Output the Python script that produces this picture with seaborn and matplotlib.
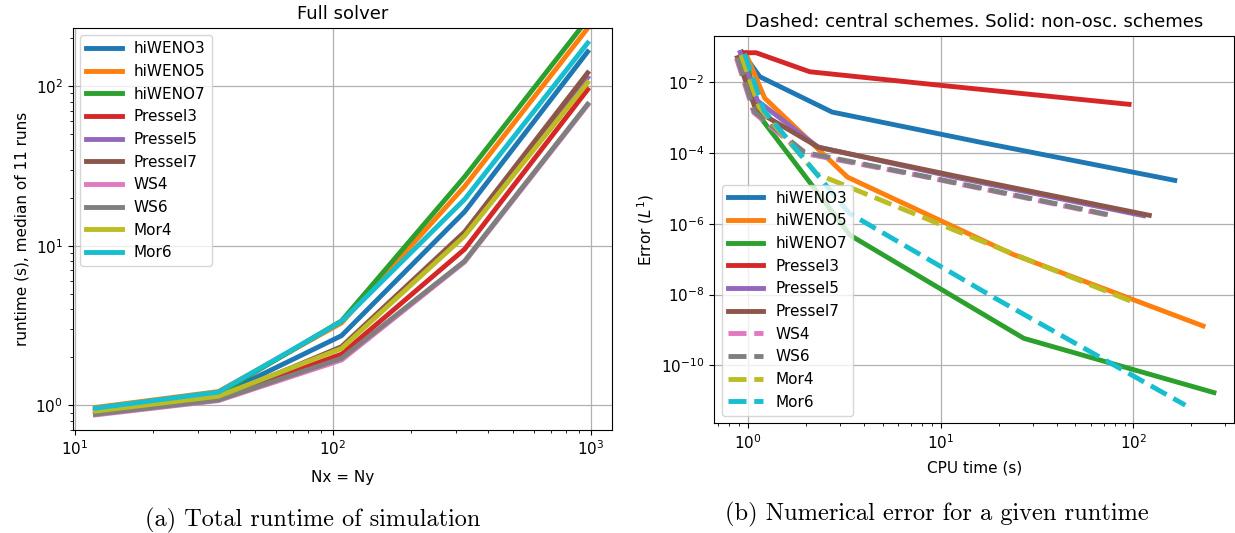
import numpy as np
import pandas as pd
import matplotlib
matplotlib.use("Agg")
import matplotlib.pyplot as plt
import seaborn as sns

# grid sizes (Nx = Ny)
nx = [12, 36, 108, 324, 972]

# median runtime (s) for each scheme, also used as CPU time in panel (b)
time_hiweno3 = [0.93, 1.15, 2.73, 16.3, 164]
time_hiweno5 = [0.97, 1.22, 3.28, 23.5, 230]
time_hiweno7 = [0.95, 1.18, 3.38, 27.0, 262]
time_pressel3 = [0.92, 1.10, 2.09, 9.5, 95]
time_pressel5 = [0.91, 1.12, 2.30, 11.8, 113]
time_pressel7 = [0.88, 1.10, 2.33, 12.2, 121]
time_ws4 = [0.87, 1.07, 1.92, 7.9, 76]
time_ws6 = [0.88, 1.08, 1.97, 8.0, 77]
time_mor4 = [0.92, 1.14, 2.27, 11.5, 105]
time_mor6 = [0.96, 1.21, 3.35, 19.5, 186]

# L1 error for each scheme
err_hiweno3 = [0.072, 0.0145, 1.45e-3, 2.0e-4, 1.7e-5]
err_hiweno5 = [0.068, 3.6e-3, 2.1e-5, 1.4e-7, 1.3e-9]
err_hiweno7 = [0.065, 9.0e-4, 4.8e-7, 5.8e-10, 1.7e-11]
err_pressel3 = [0.069, 0.069, 0.020, 0.0085, 0.0024]
err_pressel5 = [0.070, 3.0e-3, 1.5e-4, 2.1e-5, 1.7e-6]
err_pressel7 = [0.050, 1.6e-3, 1.45e-4, 2.2e-5, 1.75e-6]
err_ws4 = [0.048, 1.40e-3, 1.0e-4, 2.25e-5, 1.7e-6]
err_ws6 = [0.048, 1.45e-3, 1.05e-4, 2.3e-5, 1.75e-6]
err_mor4 = [0.060, 2.0e-3, 2.6e-5, 7.0e-7, 5.5e-9]
err_mor6 = [0.065, 1.6e-3, 2.0e-6, 7.5e-9, 7.5e-12]

schemes = ["hiWENO3", "hiWENO5", "hiWENO7", "Pressel3", "Pressel5",
           "Pressel7", "WS4", "WS6", "Mor4", "Mor6"]
central = ["WS4", "WS6", "Mor4", "Mor6"]
times = [time_hiweno3, time_hiweno5, time_hiweno7, time_pressel3, time_pressel5,
         time_pressel7, time_ws4, time_ws6, time_mor4, time_mor6]
errors = [err_hiweno3, err_hiweno5, err_hiweno7, err_pressel3, err_pressel5,
          err_pressel7, err_ws4, err_ws6, err_mor4, err_mor6]

rows = []
for name, t, e in zip(schemes, times, errors):
    for n, ti, ei in zip(nx, t, e):
        rows.append({"scheme": name, "nx": n, "time": ti, "error": ei})
df = pd.DataFrame(rows)

palette = sns.color_palette("tab10", len(schemes))

fig = plt.figure(figsize=(12.35, 5.33), dpi=100)
ax1 = fig.add_axes([0.0589, 0.1932, 0.4364, 0.7548])
ax2 = fig.add_axes([0.5784, 0.2058, 0.4210, 0.7272])

for ax in (ax1, ax2):
    ax.set_xscale("log")
    ax.set_yscale("log")

# --- (a) runtime vs grid size ---
for name, color in zip(schemes, palette):
    sub = df[df["scheme"] == name]
    sns.lineplot(data=sub, x="nx", y="time", ax=ax1, color=color, lw=3.5,
                 label=name, errorbar=None)
ax1.set_xlim(9.8, 1205)
ax1.set_ylim(0.70, 232)
ax1.grid(True, which="major", color="#b0b0b0", lw=0.9)
ax1.set_title("Full solver", fontsize=13)
ax1.set_xlabel("Nx = Ny", fontsize=11, labelpad=8)
ax1.set_ylabel("runtime (s), median of 11 runs", fontsize=11)
ax1.tick_params(labelsize=11)
ax1.legend(loc="upper left", fontsize=11, handlelength=2.3)

# --- (b) error vs CPU time ---
for name, color in zip(schemes, palette):
    sub = df[df["scheme"] == name]
    ls = "--" if name in central else "-"
    sns.lineplot(data=sub, x="time", y="error", ax=ax2, color=color, lw=3.5,
                 linestyle=ls, label=name, errorbar=None, sort=False)
ax2.set_xlim(0.668, 334)
ax2.set_ylim(2.3e-12, 0.209)
ax2.set_yticks([1e-10, 1e-8, 1e-6, 1e-4, 1e-2])
ax2.grid(True, which="major", color="#b0b0b0", lw=0.9)
ax2.set_title("Dashed: central schemes. Solid: non-osc. schemes", fontsize=13)
ax2.set_xlabel("CPU time (s)", fontsize=11, labelpad=6)
ax2.set_ylabel("Error ($L^1$)", fontsize=11)
ax2.tick_params(labelsize=11)
ax2.legend(loc="lower left", fontsize=11, handlelength=2.3)

fig.text(0.2535, 0.0244, "(a) Total runtime of simulation", family="cmr10",
         fontsize=17.5, ha="center", va="center")
fig.text(0.759, 0.0356, "(b) Numerical error for a given runtime", family="cmr10",
         fontsize=17.6, ha="center", va="center")

fig.savefig("out.png", dpi=100)
